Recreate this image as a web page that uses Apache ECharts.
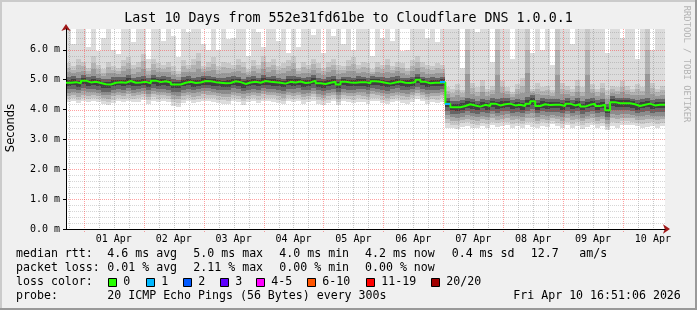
<!DOCTYPE html>
<html><head><meta charset="utf-8">
<script src="https://cdn.jsdelivr.net/npm/echarts@6/dist/echarts.min.js"></script>
<style>html,body{margin:0;padding:0;background:#f0f0f0}#c{width:697px;height:310px}</style>
</head><body><div id="c"></div>
<script>
// ---------- data ----------
const titleText = 'Last 10 Days from 552e31fd61be to Cloudflare DNS 1.0.0.1';
const startTime = Date.UTC(2026, 2, 31, 16, 51, 6);
const endTime = Date.UTC(2026, 3, 10, 16, 51, 6);
const stepHours = 2; // one column = 2 h, 120 columns
const monthName = 'Apr';
const labelDays = [1,2,3,4,5,6,7,8,9,10];
const yTickValues = [0,1,2,3,4,5,6];

const medianRtt = [
 4.90,4.92,4.88,4.97,4.91,4.93,4.89,4.85,4.84,4.90,
 4.92,4.90,4.96,4.90,4.91,4.93,4.88,4.97,4.92,4.95,
 4.91,4.84,4.84,4.90,4.93,4.89,4.91,4.96,4.95,4.92,
 4.90,4.88,4.89,4.95,4.92,4.86,4.91,4.93,4.90,4.96,
 4.93,4.92,4.90,4.87,4.93,4.91,4.94,4.89,4.91,4.97,
 4.88,4.86,4.90,4.93,4.84,4.93,4.91,4.90,4.92,4.92,
 4.88,4.95,4.93,4.90,4.87,4.91,4.94,4.90,4.89,4.92,
 5.00,4.93,4.88,4.90,4.90,4.92,4.20,4.08,4.08,4.12,
 4.18,4.14,4.10,4.16,4.12,4.20,4.14,4.18,4.20,4.14,
 4.16,4.12,4.20,4.28,4.12,4.18,4.15,4.16,4.16,4.12,
 4.20,4.14,4.18,4.10,4.16,4.20,4.12,4.16,3.98,4.25,
 4.21,4.21,4.21,4.18,4.12,4.16,4.20,4.14,4.16,4.16];
const smokeMin = [
 4.25,4.30,4.22,4.28,4.26,4.30,4.24,4.18,4.15,4.22,
 4.28,4.24,4.30,4.25,4.27,4.32,4.20,4.30,4.26,4.28,
 4.24,4.12,4.10,4.22,4.28,4.22,4.26,4.30,4.30,4.27,
 4.22,4.20,4.18,4.28,4.25,4.17,4.24,4.28,4.22,4.30,
 4.28,4.27,4.22,4.18,4.28,4.25,4.29,4.20,4.24,4.30,
 4.20,4.16,4.22,4.28,4.14,4.28,4.24,4.22,4.27,4.26,
 4.20,4.30,4.28,4.22,4.18,4.25,4.29,4.22,4.20,4.27,
 4.35,4.28,4.20,4.24,4.22,4.27,3.40,3.38,3.36,3.42,
 3.45,3.40,3.38,3.44,3.40,3.48,3.42,3.46,3.48,3.40,
 3.44,3.38,3.48,3.42,3.38,3.46,3.42,3.52,3.44,3.38,
 3.48,3.40,3.45,3.36,3.42,3.48,3.38,3.44,3.30,3.46,
 3.40,3.50,3.48,3.47,3.44,3.38,3.42,3.46,3.40,3.44];
const smokeLo = [
 4.68,4.70,4.65,4.72,4.68,4.70,4.66,4.60,4.58,4.66,
 4.70,4.66,4.72,4.67,4.68,4.71,4.64,4.73,4.69,4.70,
 4.67,4.60,4.58,4.66,4.70,4.65,4.68,4.72,4.71,4.69,
 4.66,4.64,4.65,4.71,4.68,4.62,4.67,4.70,4.66,4.72,
 4.70,4.69,4.66,4.63,4.70,4.68,4.71,4.65,4.67,4.73,
 4.64,4.62,4.66,4.70,4.60,4.70,4.67,4.66,4.69,4.68,
 4.64,4.72,4.70,4.66,4.63,4.68,4.71,4.66,4.65,4.69,
 4.76,4.70,4.64,4.67,4.66,4.69,3.95,3.86,3.85,3.88,
 3.94,3.90,3.86,3.92,3.88,3.96,3.90,3.94,3.96,3.90,
 3.92,3.88,3.96,4.02,3.88,3.94,3.91,3.92,3.92,3.88,
 3.96,3.90,3.94,3.86,3.92,3.96,3.88,3.92,3.76,4.00,
 3.97,3.97,3.97,3.94,3.88,3.92,3.96,3.90,3.92,3.92];
const smokeHi = [
 5.10,5.12,5.05,5.15,5.08,5.12,5.06,5.02,5.04,5.10,
 5.08,5.10,5.16,5.06,5.09,5.14,5.05,5.15,5.10,5.12,
 5.08,5.02,5.00,5.08,5.12,5.06,5.10,5.14,5.12,5.10,
 5.06,5.05,5.08,5.13,5.10,5.04,5.08,5.12,5.07,5.15,
 5.10,5.12,5.06,5.04,5.11,5.13,5.10,5.06,5.09,5.15,
 5.05,5.03,5.08,5.12,5.02,5.10,5.09,5.07,5.11,5.10,
 5.06,5.12,5.10,5.08,5.05,5.09,5.12,5.07,5.06,5.10,
 5.18,5.10,5.05,5.08,5.07,5.10,4.40,4.28,4.30,4.32,
 4.40,4.34,4.30,4.36,4.32,4.40,4.36,4.38,4.40,4.33,
 4.36,4.32,4.42,4.48,4.31,4.38,4.35,4.36,4.36,4.32,
 4.40,4.33,4.38,4.30,4.36,4.40,4.32,4.36,4.20,4.44,
 4.40,4.40,4.40,4.37,4.32,4.36,4.40,4.33,4.35,4.35];
const smokeUp = [
 5.55,5.45,5.70,5.60,5.40,5.80,5.50,5.35,5.60,5.45,
 5.40,5.65,5.75,5.50,5.60,5.85,5.40,5.70,5.55,5.50,
 5.60,5.45,5.30,5.65,5.50,5.70,5.90,5.45,5.60,5.75,
 5.45,5.60,5.55,5.50,5.70,5.60,5.35,5.65,5.50,5.80,
 5.60,5.70,5.45,5.55,5.65,5.80,5.40,5.60,5.50,5.70,
 5.55,5.40,5.60,5.70,5.50,5.45,5.65,5.75,5.50,5.60,
 5.55,5.35,5.60,5.50,5.70,5.45,5.60,5.55,5.40,5.65,
 5.80,5.60,5.50,5.45,5.55,5.50,4.75,4.70,4.85,4.65,
 6.80,4.90,4.75,5.00,4.70,4.80,6.80,4.95,4.75,4.60,
 4.85,5.05,6.80,4.70,4.90,4.75,4.80,4.65,6.80,4.90,
 4.80,4.70,5.00,4.75,6.80,4.85,4.70,4.90,4.65,4.80,
 4.75,4.95,4.80,4.70,4.85,4.75,6.80,4.90,4.70,4.80];
const smokeMax = [
 6.80,6.20,6.80,6.80,6.10,6.80,5.95,6.40,6.80,6.00,
 5.85,6.80,6.80,6.25,6.80,6.80,5.70,6.80,6.80,6.30,
 6.80,6.45,5.75,6.80,6.60,6.80,6.80,6.20,6.00,6.80,
 6.00,6.80,6.35,6.40,6.80,6.80,5.80,6.80,6.60,6.10,
 6.80,6.80,6.30,6.80,5.90,6.80,6.10,6.80,6.80,6.50,
 6.80,5.90,6.80,6.45,6.80,6.20,6.80,6.00,6.70,6.80,
 6.80,5.80,6.80,6.40,6.80,6.30,6.80,5.95,6.00,6.80,
 6.80,6.80,6.40,6.80,6.25,6.80,6.80,6.80,6.80,5.40,
 6.80,6.80,6.60,6.80,6.80,5.60,6.80,6.80,6.80,5.70,
 6.80,6.80,6.80,5.90,6.80,6.00,6.80,5.50,6.80,6.80,
 6.80,6.20,6.80,6.80,6.80,6.80,6.80,6.80,5.90,6.80,
 6.80,6.40,6.80,6.80,5.70,6.80,6.80,6.00,6.80,6.80];
const lossCount = [
 0,0,0,0,0,0,0,0,0,0, 0,0,0,0,0,0,0,0,0,0,
 0,0,0,0,0,0,0,0,0,0, 0,0,0,0,0,0,0,0,0,0,
 0,0,0,0,0,0,0,0,0,0, 0,0,0,0,0,0,0,0,0,0,
 0,0,0,0,0,0,0,0,0,0, 0,0,0,0,0,1,1,0,0,0,
 0,0,0,0,0,0,0,0,0,0, 0,0,0,0,0,0,0,0,0,0,
 0,0,0,0,0,0,0,0,0,0, 0,0,0,0,0,0,0,0,0,0];

const lossLegendLabels = ['0','1','2','3','4-5','6-10','11-19','20/20'];
const lossLegendColors = ['#26ff00','#00b8ff','#0059ff','#5e00ff','#ff00ff','#ff5500','#ff0000','#a10000'];
const rttStats = ['4.6 ms avg','5.0 ms max','4.0 ms min','4.2 ms now','0.4 ms sd','12.7','am/s'];
const lossStats = ['0.01 % avg','2.11 % max','0.00 % min','0.00 % now'];
const probeText = '20 ICMP Echo Pings (56 Bytes) every 300s';
const stampText = 'Fri Apr 10 16:51:06 2026';

// ---------- derived structures ----------
const HOUR = 3600e3;
const stepMs = stepHours * HOUR;
const smokeData = medianRtt.map((m, k) => [startTime + k*stepMs, startTime + (k+1)*stepMs,
  smokeMin[k], smokeLo[k], m, smokeHi[k], smokeUp[k], smokeMax[k]]);
const medianLine = medianRtt.map((m, k) => [startTime + k*stepMs, m]);
medianLine.push([endTime, medianRtt[medianRtt.length-1]]);
const lossData = [];
lossCount.forEach((l, k) => { if (l > 0) lossData.push([startTime + k*stepMs, startTime + (k+1)*stepMs, medianRtt[k], l]); });
function lossColor(l) {
  if (l <= 0) return lossLegendColors[0];
  if (l === 1) return lossLegendColors[1];
  if (l === 2) return lossLegendColors[2];
  if (l === 3) return lossLegendColors[3];
  if (l <= 5) return lossLegendColors[4];
  if (l <= 10) return lossLegendColors[5];
  if (l <= 19) return lossLegendColors[6];
  return lossLegendColors[7];
}
const midnights = labelDays.map(d => Date.UTC(2026, 3, d));
const noons = labelDays.map(d => Date.UTC(2026, 3, d, 12));
const sixHours = [];
for (let t = Date.UTC(2026, 2, 31, 18); t < endTime; t += 6*HOUR) {
  if (new Date(t).getUTCHours() !== 0) sixHours.push(t);
}
const yMinor = [];
for (let i = 1; i <= 33; i++) { if (i % 5 !== 0) yMinor.push(+(i*0.2).toFixed(1)); }
const yMajor = [1,2,3,4,5,6];
const gridV = sixHours.map(t => [t, 0]).concat(midnights.map(t => [t, 1]));
const gridH = yMinor.map(v => [v, 0]).concat(yMajor.map(v => [v, 1]));

const MONO = '"DejaVu Sans Mono", monospace';
const gridGreyH = 'rgba(120,120,120,0.3)';
const gridGreyV = 'rgba(120,120,120,0.4)';
const gridRed = 'rgba(255,30,30,0.42)';

function renderSmoke(params, api) {
  const t0 = api.value(0), t1 = api.value(1);
  const mn = api.value(2), lo = api.value(3), md = api.value(4), hi = api.value(5), up = api.value(6), mx = api.value(7);
  const x0 = Math.round(api.coord([t0, 0])[0]);
  const x1 = Math.round(api.coord([t1, 0])[0]);
  const bands = [];
  const seg = (a, b, cols) => { const n = cols.length; for (let i = 0; i < n; i++) bands.push([a+(b-a)*i/n, a+(b-a)*(i+1)/n, cols[i]]); };
  seg(mn, lo, ['#dcdcdc','#c6c6c6','#aaaaaa','#8c8c8c']);
  seg(lo, md, ['#656565','#404040']);
  seg(md, hi, ['#404040','#656565']);
  seg(hi, up, ['#999999','#b2b2b2','#c8c8c8']);
  if (mx > up) bands.push([up, mx, '#dcdcdc']);
  const children = bands.map(([a, b, c]) => {
    const ya = Math.round(api.coord([t0, a])[1]);
    const yb = Math.round(api.coord([t0, b])[1]);
    return { type: 'rect', shape: { x: x0, y: yb, width: x1 - x0, height: ya - yb }, style: { fill: c } };
  });
  return { type: 'group', children };
}
function renderLoss(params, api) {
  const x0 = Math.round(api.coord([api.value(0), 0])[0]);
  const x1 = Math.round(api.coord([api.value(1), 0])[0]);
  const y = Math.round(api.coord([api.value(0), api.value(2)])[1]);
  return { type: 'rect', shape: { x: x0, y: y - 1, width: x1 - x0, height: 2 }, style: { fill: lossColor(api.value(3)) } };
}
function renderGridV(params, api) {
  const cs = params.coordSys;
  const major = api.value(1);
  const x = Math.round(api.coord([api.value(0), 0])[0]) + 0.5;
  return { type: 'line', shape: { x1: x, y1: cs.y, x2: x, y2: cs.y + cs.height + (major ? 3 : 0) },
    style: { stroke: major ? gridRed : gridGreyV, lineWidth: 1, lineDash: [1, 1] } };
}
function renderGridH(params, api) {
  const cs = params.coordSys;
  const major = api.value(1);
  const y = Math.round(api.coord([startTime, api.value(0)])[1]) + 0.5;
  return { type: 'line', shape: { x1: cs.x, y1: y, x2: cs.x + cs.width, y2: y },
    style: { stroke: major ? gridRed : gridGreyH, lineWidth: 1, lineDash: [1, 1] } };
}

// ---------- graphic texts ----------
const graphics = [];
function txt(x, y, text, font, extra) {
  graphics.push(Object.assign({ type: 'text', x, y, silent: true,
    style: { text, font, fill: '#000', align: 'left', verticalAlign: 'middle', textAlign: 'left', textVerticalAlign: 'middle' } }, extra || {}));
}
graphics.push({ type: 'rect', shape: { x: 0, y: 0, width: 697, height: 2 }, style: { fill: '#cbcbcb' }, silent: true });
graphics.push({ type: 'rect', shape: { x: 0, y: 0, width: 2, height: 310 }, style: { fill: '#cbcbcb' }, silent: true });
graphics.push({ type: 'rect', shape: { x: 695, y: 0, width: 2, height: 310 }, style: { fill: '#999999' }, silent: true });
graphics.push({ type: 'rect', shape: { x: 0, y: 308, width: 697, height: 2 }, style: { fill: '#999999' }, silent: true });
graphics.push({ type: 'text', x: 348.5, y: 19, silent: true,
  style: { text: titleText, font: '13.3px ' + MONO, fill: '#000', align: 'center', verticalAlign: 'middle', textAlign: 'center', textVerticalAlign: 'middle' } });
graphics.push({ type: 'text', x: 11, y: 128, rotation: Math.PI/2, silent: true,
  style: { text: 'Seconds', font: '11.5px "DejaVu Sans", sans-serif', fill: '#000', align: 'center', verticalAlign: 'middle', textAlign: 'center', textVerticalAlign: 'middle' } });
graphics.push({ type: 'text', x: 686, y: 64, rotation: -Math.PI/2, silent: true,
  style: { text: 'RRDTOOL / TOBI OETIKER', font: '8.8px ' + MONO, fill: '#b4b4b4', align: 'center', verticalAlign: 'middle', textAlign: 'center', textVerticalAlign: 'middle' } });
const LF = '11.6px ' + MONO;
const colX = [107.3, 193.3, 279.3, 365, 451.7, 530.7, 579.3];
txt(16, 254, 'median rtt:', LF);
rttStats.forEach((s, i) => txt(colX[i], 254, s, LF));
txt(16, 268, 'packet loss:', LF);
lossStats.forEach((s, i) => txt(colX[i], 268, s, LF));
txt(16, 282, 'loss color:', LF);
const boxX = [108, 145.5, 182.5, 219.5, 256, 306.5, 365.5, 430.5];
lossLegendLabels.forEach((lab, i) => {
  const bx = Math.round(boxX[i]) + 0.5;
  graphics.push({ type: 'rect', silent: true, shape: { x: bx, y: 278.5, width: 8, height: 8 }, style: { fill: lossLegendColors[i], stroke: '#000', lineWidth: 1 } });
  txt(bx + 14.8, 282, lab, LF);
});
txt(16, 296, 'probe:', LF);
txt(107.3, 296, probeText, LF);
txt(513.3, 296, stampText, LF);

// ---------- chart ----------
const chart = echarts.init(document.getElementById('c'), null, { renderer: 'canvas', width: 697, height: 310 });
const fmtDay = v => { const d = new Date(v); return ('0' + d.getUTCDate()).slice(-2) + ' ' + monthName; };
chart.setOption({
  animation: false,
  backgroundColor: '#f0f0f0',
  grid: { left: 66, top: 29, right: 32, bottom: 81, show: true, backgroundColor: '#ffffff', borderWidth: 0, containLabel: false },
  xAxis: [
    { type: 'value', min: startTime, max: endTime, position: 'bottom', z: 6,
      axisLine: { show: true, onZero: false, lineStyle: { color: '#000', width: 1 } },
      axisTick: { show: false },
      axisLabel: { show: true, customValues: noons, formatter: fmtDay, fontFamily: '"DejaVu Sans Mono", monospace', fontSize: 10, color: '#000', margin: 5 },
      splitLine: { show: false } },
    { type: 'value', min: startTime, max: endTime, position: 'bottom', z: 5,
      axisLine: { show: true, onZero: false, symbol: ['none', 'arrow'], symbolSize: [7, 7], symbolOffset: [0, 5], lineStyle: { color: '#a01818', width: 1 } },
      axisTick: { show: false }, axisLabel: { show: false }, splitLine: { show: false } }
  ],
  yAxis: [
    { type: 'value', min: 0, max: 6.7, position: 'left', z: 6,
      axisLine: { show: true, onZero: false, lineStyle: { color: '#000', width: 1 } },
      axisTick: { show: true, length: 3, customValues: yTickValues, lineStyle: { color: '#000' } },
      axisLabel: { show: true, customValues: yTickValues, formatter: v => v.toFixed(1) + ' m', fontFamily: '"DejaVu Sans Mono", monospace', fontSize: 10, color: '#000', margin: 6 },
      splitLine: { show: false } },
    { type: 'value', min: 0, max: 6.7, position: 'left', z: 5,
      axisLine: { show: true, onZero: false, symbol: ['none', 'arrow'], symbolSize: [7, 7], symbolOffset: [0, 5], lineStyle: { color: '#a01818', width: 1 } },
      axisTick: { show: false }, axisLabel: { show: false }, splitLine: { show: false } }
  ],
  series: [
    { type: 'custom', name: 'smoke', z: 1, clip: true, silent: true, xAxisIndex: 0, yAxisIndex: 0,
      renderItem: renderSmoke, encode: { x: [0, 1], y: [2, 7] }, data: smokeData },
    { type: 'custom', name: 'gridH', z: 4, clip: false, silent: true, xAxisIndex: 0, yAxisIndex: 0,
      renderItem: renderGridH, encode: { y: 0 }, data: gridH },
    { type: 'custom', name: 'gridV', z: 4, clip: false, silent: true, xAxisIndex: 0, yAxisIndex: 0,
      renderItem: renderGridV, encode: { x: 0 }, data: gridV },
    { type: 'line', name: 'median', z: 10, clip: true, silent: true, xAxisIndex: 0, yAxisIndex: 0,
      step: 'end', showSymbol: false, symbol: 'none', lineStyle: { color: '#26ff00', width: 2 }, data: medianLine },
    { type: 'custom', name: 'loss', z: 11, clip: true, silent: true, xAxisIndex: 0, yAxisIndex: 0,
      renderItem: renderLoss, encode: { x: [0, 1], y: 2 }, data: lossData }
  ],
  graphic: { elements: graphics }
});
</script>
</body></html>
